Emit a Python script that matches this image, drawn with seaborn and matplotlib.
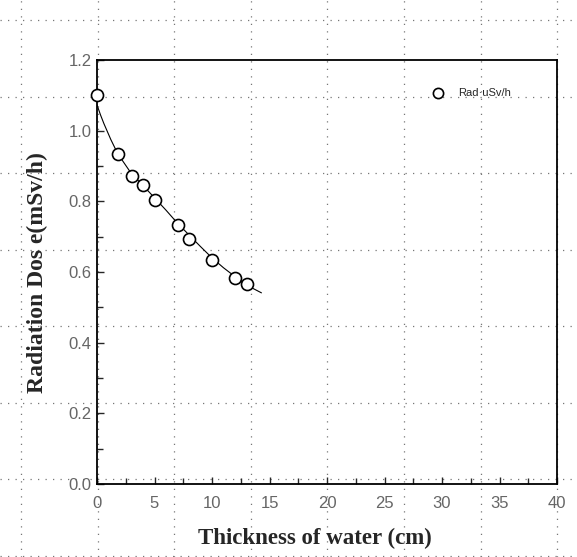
import numpy as np
import pandas as pd
import matplotlib
matplotlib.use('Agg')
import matplotlib.pyplot as plt
import seaborn as sns
from matplotlib.ticker import MultipleLocator

#-----------data----------------------------------
thickness = [0, 1.8, 3, 4, 5, 7, 8, 10, 12, 13]
dose = [1.10, 0.933, 0.873, 0.845, 0.805, 0.732, 0.693, 0.633, 0.583, 0.565]

# fitted curve, read point by point
fit_x = [0, 0.3, 0.6, 1.2, 1.8, 3, 4, 5, 6, 7, 8, 9, 10, 11, 12, 13, 14.3]
fit_y = [1.073, 1.045, 1.02, 0.975, 0.935, 0.878, 0.845, 0.81, 0.775, 0.738,
         0.705, 0.672, 0.64, 0.612, 0.587, 0.563, 0.541]

legend_label = 'Rad·uSv/h'

pts = pd.DataFrame({'x': thickness, 'y': dose})
fit = pd.DataFrame({'x': fit_x, 'y': fit_y})

sns.set_style('white')
plt.rcParams['font.family'] = ['Liberation Sans', 'DejaVu Sans']

fig = plt.figure(figsize=(5.77, 5.57), dpi=100)

#-----------graph paper behind everything------------
bg = fig.add_axes([0, 0, 1, 1], zorder=0)
bg.set_xlim(0, 577)
bg.set_ylim(557, 0)
bg.axis('off')
for gx in [21, 97.5, 174, 250.5, 327, 404, 480.5, 557]:
    bg.axvline(gx, color='#777777', lw=0.9, ls=(0, (1, 5)))
for gy in [20, 96.5, 173, 249.5, 326, 402.5, 479, 555.5]:
    bg.axhline(gy, color='#777777', lw=0.9, ls=(0, (1, 5)))

#-----------main plot------------
ax = fig.add_axes([97 / 577, 1 - 484 / 557, 460 / 577, 424 / 557], zorder=1)
ax.patch.set_alpha(0)

sns.lineplot(data=fit, x='x', y='y', ax=ax, color='k', lw=0.8, zorder=2)
sns.scatterplot(data=pts, x='x', y='y', ax=ax, marker='o', s=75,
                facecolor='white', edgecolor='k', linewidth=1.2,
                label=legend_label, zorder=3, clip_on=False)

ax.set_xlim(0, 40)
ax.set_ylim(0, 1.2)
ax.xaxis.set_major_locator(MultipleLocator(5))
ax.xaxis.set_minor_locator(MultipleLocator(2.5))
ax.yaxis.set_major_locator(MultipleLocator(0.2))
ax.yaxis.set_minor_locator(MultipleLocator(0.1))
ax.yaxis.set_major_formatter(matplotlib.ticker.FormatStrFormatter('%.1f'))
ax.tick_params(which='major', direction='in', length=5, width=1,
               labelsize=12, labelcolor='#666666')
ax.tick_params(axis='x', which='major', pad=9)
ax.tick_params(axis='y', which='major', pad=4)
ax.tick_params(which='minor', direction='in', length=4, width=1)
ax.tick_params(bottom=True, left=True, which='both')

for sp in ax.spines.values():
    sp.set_color('k')
    sp.set_linewidth(1.3)

ax.set_xlabel('Thickness of water (cm)', family='Liberation Serif',
              fontweight='bold', fontsize=16.5)
ax.xaxis.set_label_coords(0.474, -0.104)
ax.set_ylabel('Radiation Dos e(mSv/h)', family='Liberation Serif',
              fontweight='bold', fontsize=17)
ax.yaxis.set_label_coords(-0.107, 0.498)

leg = ax.legend(loc='center left', bbox_to_anchor=(0.695, 0.922), frameon=False,
                fontsize=8, markerscale=0.85)

fig.savefig('out.png', dpi=100)
